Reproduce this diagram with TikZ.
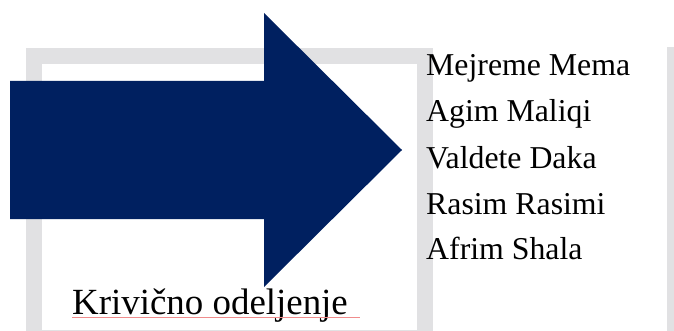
\documentclass[tikz,border=0pt]{standalone}
\usepackage{fontspec}
\setmainfont{Liberation Serif}
\definecolor{framegray}{RGB}{225,225,227}
\definecolor{navyarrow}{RGB}{0,32,96}
\definecolor{spellred}{RGB}{240,140,140}
\tikzset{
  namelabel/.style={anchor=base west, inner sep=0pt, font=\fontsize{31.8}{36}\selectfont},
  titlelabel/.style={anchor=base west, inner sep=0pt, font=\fontsize{36.9}{42}\selectfont},
}
\begin{document}
\begin{tikzpicture}[x=1pt,y=-1pt]
\useasboundingbox (0,0) rectangle (674,331);
% frame
\draw[framegray, line width=16pt] (34,56) rectangle (425,338);
\fill[framegray] (667,47) rectangle (674,340);
% arrow
\fill[navyarrow] (10,81) -- (264,81) -- (264,13) -- (402,150) -- (264,287) -- (264,219) -- (10,219) -- cycle;
% title
\node[titlelabel] (title) at (72,314) {Krivično odeljenje};
\draw[spellred, line width=0.5pt] (72,317.5) -- (360,317.5);
% names
\node[namelabel] (n1) at (426,76) {Mejreme Mema};
\node[namelabel] (n2) at (426,122) {Agim Maliqi};
\node[namelabel] (n3) at (426,168) {Valdete Daka};
\node[namelabel] (n4) at (426,214) {Rasim Rasimi};
\node[namelabel] (n5) at (426,259) {Afrim Shala};
\end{tikzpicture}
\end{document}
